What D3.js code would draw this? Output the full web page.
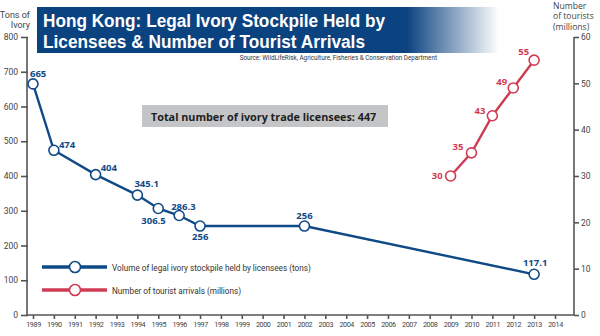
<!DOCTYPE html>
<html>
<head>
<meta charset="utf-8">
<script src="https://cdn.jsdelivr.net/npm/d3@7"></script>
<style>
  body { margin: 0; background: #fff; }
  svg { display: block; font-family: "Liberation Sans Narrow", "Roboto", "Open Sans", sans-serif; }
</style>
</head>
<body>
<script>
// values
const ivoryYears = [1989, 1990, 1992, 1994, 1995, 1996, 1997, 2002, 2013];
const ivoryTons = [665, 474, 404, 345.1, 306.5, 286.3, 256, 256, 117.1];
const touristYears = [2009, 2010, 2011, 2012, 2013];
const touristMillions = [30, 35, 43, 49, 55];
const yearTicks = d3.range(1989, 2015);
const tonTicks = [0, 100, 200, 300, 400, 500, 600, 700, 800];
const touristTicks = [0, 10, 20, 30, 40, 50, 60];

const width = 600, height = 336;
const blue = "#0f4a86", red = "#cf3b52", axisCol = "#555";

const svg = d3.select("body").append("svg")
  .attr("width", width)
  .attr("height", height);

const x = d3.scaleLinear().domain([1989, 2014]).range([33, 555]);
const yL = d3.scaleLinear().domain([0, 800]).range([315, 37]);
const yR = d3.scaleLinear().domain([0, 60]).range([315, 37]);
const leftX = 27, rightX = 574;

// title banner
const defs = svg.append("defs");
const grad = defs.append("linearGradient").attr("id", "titleGrad");
grad.append("stop").attr("offset", "0%").attr("stop-color", "#0b4280");
grad.append("stop").attr("offset", "80%").attr("stop-color", "#0b4280");
grad.append("stop").attr("offset", "100%").attr("stop-color", "#ffffff");
svg.append("rect")
  .attr("x", 37).attr("y", 7).attr("width", 462).attr("height", 46)
  .attr("fill", "url(#titleGrad)");
const titleLines = [
  { text: "Hong Kong: Legal Ivory Stockpile Held by", y: 27, len: 342 },
  { text: "Licensees & Number of Tourist Arrivals", y: 48, len: 322 }
];
svg.selectAll("text.title").data(titleLines).enter().append("text")
  .attr("class", "title")
  .attr("x", 43).attr("y", d => d.y)
  .attr("textLength", d => d.len).attr("lengthAdjust", "spacingAndGlyphs")
  .attr("fill", "#fff")
  .attr("font-family", "'Liberation Sans', Arial, sans-serif")
  .attr("font-weight", "bold")
  .attr("font-size", 18)
  .text(d => d.text);

svg.append("text")
  .attr("x", 437).attr("y", 60)
  .attr("text-anchor", "end")
  .attr("font-size", 6.3).attr("fill", "#333")
  .text("Source: WildLifeRisk, Agriculture, Fisheries & Conservation Department");

// licensee box
svg.append("rect")
  .attr("x", 142).attr("y", 105).attr("width", 246).attr("height", 22)
  .attr("fill", "#c4c5c7");
svg.append("text")
  .attr("x", 151).attr("y", 120.5)
  .attr("font-family", "'Open Sans', sans-serif")
  .attr("font-weight", "bold").attr("font-size", 10.8).attr("fill", "#1e1e1e")
  .text("Total number of ivory trade licensees: 447");

// axes
const axisL = svg.append("g")
  .attr("transform", `translate(${leftX},0)`)
  .call(d3.axisLeft(yL).tickValues(tonTicks).tickSize(7).tickPadding(2).tickSizeOuter(0));
axisL.select(".domain").remove();
axisL.selectAll("line").attr("transform", "translate(1,0)");

const axisR = svg.append("g")
  .attr("transform", `translate(${rightX},0)`)
  .call(d3.axisRight(yR).tickValues(touristTicks).tickSize(5).tickPadding(2).tickSizeOuter(0));
axisR.select(".domain").remove();

const axisB = svg.append("g")
  .attr("transform", `translate(0,${yL(0)})`)
  .call(d3.axisBottom(x).tickValues(yearTicks).tickFormat(d3.format("d")).tickSize(4).tickPadding(3).tickSizeOuter(0));
axisB.select(".domain").remove();

[axisL, axisR, axisB].forEach(g => {
  g.selectAll("line").attr("stroke", axisCol).attr("stroke-width", 1.6);
  g.selectAll("text").attr("fill", "#444").attr("font-size", 8.5)
    .attr("font-family", "'Liberation Sans Narrow', 'Roboto', sans-serif");
});
axisB.selectAll("text").attr("font-size", 7.2).attr("letter-spacing", -0.4);

svg.append("line").attr("x1", leftX).attr("x2", leftX).attr("y1", yL(800)).attr("y2", yL(0))
  .attr("stroke", axisCol).attr("stroke-width", 1.6);
svg.append("line").attr("x1", rightX).attr("x2", rightX).attr("y1", yR(60)).attr("y2", yR(0))
  .attr("stroke", axisCol).attr("stroke-width", 1.6);
svg.append("line").attr("x1", leftX).attr("x2", rightX).attr("y1", yL(0)).attr("y2", yL(0))
  .attr("stroke", axisCol).attr("stroke-width", 1.6);

// axis titles
const leftTitle = [{ t: "Tons of", y: 18 }, { t: "Ivory", y: 28 }];
svg.selectAll("text.ltitle").data(leftTitle).enter().append("text")
  .attr("class", "ltitle")
  .attr("x", 30).attr("y", d => d.y)
  .attr("text-anchor", "end").attr("font-size", 9).attr("fill", "#444")
  .text(d => d.t);
const rightTitle = [{ t: "Number", y: 8.5 }, { t: "of tourists", y: 19 }, { t: "(millions)", y: 29.5 }];
svg.selectAll("text.rtitle").data(rightTitle).enter().append("text")
  .attr("class", "rtitle")
  .attr("x", 553).attr("y", d => d.y)
  .attr("font-family", "'Open Sans', sans-serif")
  .attr("font-size", 8.6).attr("fill", "#444")
  .text(d => d.t);

// series
const ivory = ivoryYears.map((yr, i) => ({ yr, v: ivoryTons[i] }));
const tourists = touristYears.map((yr, i) => ({ yr, v: touristMillions[i] }));

svg.append("path").datum(ivory)
  .attr("fill", "none").attr("stroke", blue).attr("stroke-width", 2.4)
  .attr("d", d3.line().x(d => x(d.yr)).y(d => yL(d.v)));
svg.selectAll("circle.ivory").data(ivory).enter().append("circle")
  .attr("class", "ivory")
  .attr("cx", d => x(d.yr)).attr("cy", d => yL(d.v)).attr("r", 5)
  .attr("fill", "#fff").attr("stroke", blue).attr("stroke-width", 1.6);

svg.append("path").datum(tourists)
  .attr("fill", "none").attr("stroke", red).attr("stroke-width", 2.4)
  .attr("d", d3.line().x(d => x(d.yr)).y(d => yR(d.v)));
svg.selectAll("circle.tour").data(tourists).enter().append("circle")
  .attr("class", "tour")
  .attr("cx", d => x(d.yr)).attr("cy", d => yR(d.v)).attr("r", 5)
  .attr("fill", "#fff").attr("stroke", red).attr("stroke-width", 1.6);

// value labels: offsets relative to each point
const ivoryOff = [[-3, -7, "start"], [5, -2, "start"], [5, -4, "start"], [-3, -8, "start"],
  [-17, 16, "start"], [-8, -6, "start"], [-8, 14, "start"], [0, -7, "middle"], [1, -8, "middle"]];
svg.selectAll("text.ivl").data(ivory).enter().append("text")
  .attr("class", "ivl")
  .attr("x", (d, i) => x(d.yr) + ivoryOff[i][0])
  .attr("y", (d, i) => yL(d.v) + ivoryOff[i][1])
  .attr("text-anchor", (d, i) => ivoryOff[i][2])
  .attr("font-family", "'Open Sans', sans-serif")
  .attr("font-weight", "bold").attr("font-size", 9.5).attr("fill", blue)
  .text(d => d.v);

const tourOff = [[-8, 3], [-8, -3], [-7, -2], [-6, -3], [-5, -5]];
svg.selectAll("text.tl").data(tourists).enter().append("text")
  .attr("class", "tl")
  .attr("x", (d, i) => x(d.yr) + tourOff[i][0])
  .attr("y", (d, i) => yR(d.v) + tourOff[i][1])
  .attr("text-anchor", "end")
  .attr("font-family", "'Open Sans', sans-serif")
  .attr("font-weight", "bold").attr("font-size", 9.5).attr("fill", red)
  .text(d => d.v);

// legend
const legendItems = [
  { label: "Volume of legal ivory stockpile held by licensees (tons)", color: blue },
  { label: "Number of tourist arrivals (millions)", color: red }
];
const leg = svg.selectAll("g.leg").data(legendItems).enter().append("g")
  .attr("class", "leg")
  .attr("transform", (d, i) => `translate(42,${267 + i * 23})`);
leg.append("line").attr("x1", 0).attr("x2", 65)
  .attr("stroke", d => d.color).attr("stroke-width", 3.5);
leg.append("circle").attr("cx", 33).attr("r", 5.5)
  .attr("fill", "#fff").attr("stroke", d => d.color).attr("stroke-width", 1.6);
leg.append("text").attr("x", 70).attr("y", 3.5)
  .attr("font-size", 8.2).attr("fill", "#333")
  .text(d => d.label);
</script>
</body>
</html>
